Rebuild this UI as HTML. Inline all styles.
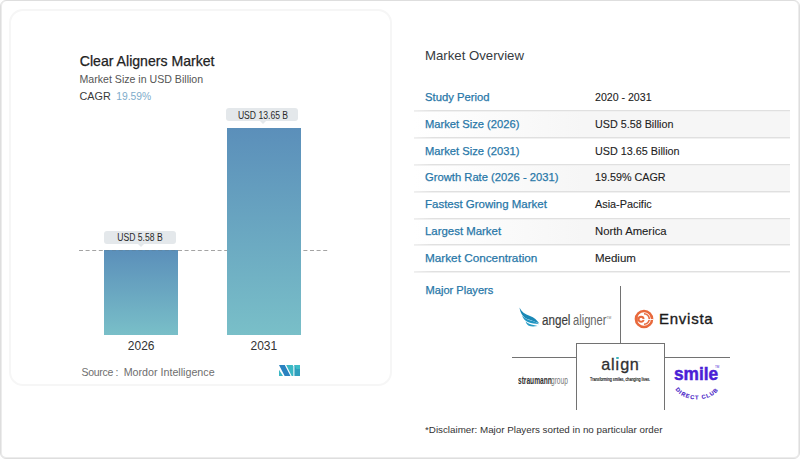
<!DOCTYPE html>
<html><head><meta charset="utf-8">
<style>
html,body{margin:0;padding:0;background:#fff;}
body{width:800px;height:459px;overflow:hidden;position:relative;font-family:"Liberation Sans",sans-serif;}
.a{position:absolute;white-space:nowrap;line-height:1;}
#outer{position:absolute;left:0;top:0;width:800px;height:459px;box-sizing:border-box;border:1px solid #dedede;border-radius:6px;box-shadow:inset 1px 0 0 #ececec,inset -1px 0 0 #ececec,inset 0 -1px 0 #ececec;}
#card{position:absolute;left:9px;top:9px;width:383px;height:377px;box-sizing:border-box;border:2px solid #f6f6f6;border-radius:14px;}
.bar{position:absolute;background:linear-gradient(#5b8fba,#79bfc8);}
.lbl{position:absolute;background:#e4e8eb;border-radius:3px;}
.lbl i{position:absolute;bottom:-3px;width:0;height:0;border-left:3px solid transparent;border-right:3px solid transparent;border-top:3px solid #e4e8eb;}
.lt{position:absolute;width:80px;text-align:center;font-size:10px;line-height:1;color:#2a2a2a;white-space:nowrap;transform:scaleX(0.86);}
.sep{position:absolute;left:414px;width:376px;height:1px;background:linear-gradient(to right,#efefef,#e0e0e0 5%,#e0e0e0);box-shadow:0 1px 0 #f1f1f1;}
.shade{position:absolute;left:414px;width:376px;background:linear-gradient(to right,rgba(246,246,246,0),#f6f6f6 45%,#f6f6f6);}
.rl{position:absolute;left:425px;font-size:11.3px;color:#2877a8;-webkit-text-stroke:0.25px #2877a8;line-height:1;white-space:nowrap;}
.rv{position:absolute;left:595px;font-size:10.8px;color:#222;-webkit-text-stroke:0.1px #222;line-height:1;white-space:nowrap;}
.ln{position:absolute;background:#727272;}
</style></head><body>
<div id="outer"></div>
<div id="card"></div>

<div class="a" style="left:79.8px;top:53.7px;font-size:14.1px;color:#222;-webkit-text-stroke:0.25px #222;">Clear Aligners Market</div>
<div class="a" style="left:79.5px;top:74px;font-size:10.6px;color:#555;">Market Size in USD Billion</div>
<div class="a" style="left:79.5px;top:90.6px;font-size:10.8px;color:#3a3a3a;">CAGR</div>
<div class="a" style="left:116.2px;top:91.6px;font-size:10.3px;color:#7eaccb;">19.59%</div>

<svg style="position:absolute;left:0;top:0;" width="400" height="300"><line x1="79" y1="250.5" x2="328" y2="250.5" stroke="#a4a4a4" stroke-width="1" stroke-dasharray="4 2.6"/></svg>
<div class="bar" style="left:104px;top:250px;width:74px;height:85px;"></div>
<div class="bar" style="left:227px;top:128px;width:74px;height:207px;"></div>
<svg style="position:absolute;left:0;top:0;" width="400" height="300"><line x1="104" y1="250.5" x2="178" y2="250.5" stroke="#5f7f96" stroke-opacity="0.55" stroke-width="1" stroke-dasharray="4 2.6" stroke-dashoffset="5.2"/></svg>
<div class="lbl" style="left:104px;top:230.7px;width:72.2px;height:13.1px;"><i style="left:33.5px;"></i></div>
<div class="lbl" style="left:226px;top:107.8px;width:72.2px;height:13.1px;"><i style="left:33.5px;"></i></div>
<div class="lt" style="left:100.3px;top:233.3px;">USD 5.58 B</div>
<div class="lt" style="left:223.25px;top:110.8px;">USD 13.65 B</div>
<div class="a" style="left:127.8px;top:340.0px;font-size:12px;color:#333;">2026</div>
<div class="a" style="left:250.5px;top:340.0px;font-size:12px;color:#333;">2031</div>
<div class="a" style="left:81.5px;top:366.7px;font-size:10.5px;color:#6e6e6e;letter-spacing:-0.3px;">Source :</div>
<div class="a" style="left:123.7px;top:366.5px;font-size:10.7px;color:#6e6e6e;">Mordor Intelligence</div>
<svg style="position:absolute;left:278.75px;top:364.75px;" width="21.5" height="11.25" viewBox="0 0 21.5 11.25">
  <polygon points="0,4.8 0,11.25 4.2,11.25" fill="#3cb7c4"/>
  <polygon points="0,0 5.8,0 11.6,11.25 5.8,11.25" fill="#2a82c0"/>
  <polygon points="7.2,0 13.6,0 14.4,1.6 14.4,11.25 12.8,11.25" fill="#3ab8c4"/>
  <polygon points="15.4,0 21.5,0 21.5,11.25 15.4,11.25" fill="#2f9fbd"/>
  <polygon points="15.4,0 21.5,0 21.5,4 17.4,4" fill="#3cbcc6"/>
</svg>

<div class="a" style="left:425px;top:49px;font-size:13.2px;color:#363b41;">Market Overview</div>

<div class="shade" style="top:111px;height:26px;"></div>
<div class="shade" style="top:164px;height:27px;"></div>
<div class="shade" style="top:218px;height:27px;"></div>
<div class="sep" style="top:110px;"></div>
<div class="sep" style="top:137px;"></div>
<div class="sep" style="top:164px;"></div>
<div class="sep" style="top:191px;"></div>
<div class="sep" style="top:218px;"></div>
<div class="sep" style="top:244px;"></div>
<div class="sep" style="top:271px;"></div>
<div class="rl" style="top:92.02px;font-size:11.26px;">Study Period</div>
<div class="rl" style="top:119.09px;font-size:11.18px;">Market Size (2026)</div>
<div class="rl" style="top:145.89px;font-size:11.18px;">Market Size (2031)</div>
<div class="rl" style="top:171.64px;font-size:11.23px;">Growth Rate (2026 - 2031)</div>
<div class="rl" style="top:199.22px;font-size:11.49px;">Fastest Growing Market</div>
<div class="rl" style="top:226.08px;font-size:11.42px;">Largest Market</div>
<div class="rl" style="top:251.60px;font-size:11.75px;">Market Concentration</div>
<div class="rv" style="top:91.58px;font-size:10.6px;">2020 - 2031</div>
<div class="rv" style="top:119.42px;font-size:10.78px;">USD 5.58 Billion</div>
<div class="rv" style="top:146.21px;font-size:10.8px;">USD 13.65 Billion</div>
<div class="rv" style="top:172.02px;font-size:10.78px;">19.59% CAGR</div>
<div class="rv" style="top:198.76px;font-size:10.86px;">Asia-Pacific</div>
<div class="rv" style="top:226.18px;font-size:11.3px;">North America</div>
<div class="rv" style="top:252.82px;font-size:11.5px;">Medium</div>

<div class="a" style="left:425.5px;top:284.9px;font-size:11.1px;color:#2877a8;-webkit-text-stroke:0.25px #2877a8;">Major Players</div>

<div class="ln" style="left:620px;top:286px;width:1px;height:57px;"></div>
<div style="position:absolute;left:576px;top:342.5px;width:87px;height:66px;border:1px solid #727272;border-bottom:none;"></div>
<div class="ln" style="left:512px;top:356.5px;width:64px;height:1px;"></div>
<div class="ln" style="left:665px;top:356.5px;width:65px;height:1px;"></div>

<!-- angel aligner -->
<svg style="position:absolute;left:518.5px;top:306.5px;" width="22" height="21" viewBox="0 0 22 21">
  <path d="M0.5,0.5 C2.2,4.6 6,7.4 11,9.0 C15,10.4 18.2,13.2 20.3,16.6 C16,15 13,13.6 9.8,12.6 C5.6,11.2 1.4,8 0.5,0.5 Z" fill="#1a88b6"/>
  <path d="M3,8.2 C5,11.4 9,12.8 13,13.8 C16,14.6 18.5,15.8 19.9,17.2 C16,16.8 12.5,16.3 9.5,15.3 C6.5,14.1 4,11.8 3,8.2 Z" fill="#2196c3"/>
  <path d="M6.6,14.6 C8.5,16.6 11.5,17.6 14.5,18.1 C16,18.4 17.3,18.7 18.6,19.1 C15,19.8 12,19.8 9.8,18.8 C8.3,18 7.2,16.6 6.6,14.6 Z" fill="#2a9dc6"/>
</svg>
<div class="a" style="left:541.5px;top:311.5px;font-size:15.5px;color:#3d3d3d;transform:scaleX(0.75);transform-origin:0 0;-webkit-text-stroke:0.2px #3d3d3d;">angel</div>
<div class="a" style="left:573px;top:311.5px;font-size:15.5px;color:#666;transform:scaleX(0.72);transform-origin:0 0;">aligner</div>
<div class="a" style="left:606.5px;top:317.3px;font-size:3.3px;color:#777;">TM</div>

<!-- envista -->
<svg style="position:absolute;left:634.4px;top:308.8px;" width="20" height="20" viewBox="0 0 20 20">
  <circle cx="10" cy="10" r="8.1" stroke="#e8693c" stroke-width="2.5" fill="none"/>
  <path d="M10,4.7 A5.3,5.3 0 0 1 10,15.3" stroke="#e8693c" stroke-width="1.6" fill="none"/>
  <circle cx="7.1" cy="10.2" r="2.5" stroke="#e8693c" stroke-width="1.9" fill="none"/>
  <path d="M3.2,7 L5,10.2 L3.2,13.4 Z" fill="#e8693c"/>
  <path d="M7.1,10.5 H19.5" stroke="#fff" stroke-width="0.9"/>
</svg>
<div class="a" style="left:659px;top:310.9px;font-size:15px;letter-spacing:0.75px;color:#1a1a1a;-webkit-text-stroke:0.35px #1a1a1a;">Envista</div>

<!-- align -->
<div class="a" style="left:601.3px;top:356px;font-size:16.2px;letter-spacing:0.6px;color:#303030;-webkit-text-stroke:0.3px #303030;">al<span id="di" style="position:relative;">&#305;<b style="position:absolute;left:50%;top:1.6px;margin-left:-1.25px;width:2.5px;height:2.5px;border-radius:50%;background:#3fb5bd;"></b></span>gn</div>
<div class="a" style="left:637px;top:360.5px;font-size:2.5px;color:#888;">TM</div>
<div class="a" style="left:589.5px;top:376.7px;font-size:5px;color:#2a2a2a;transform:scaleX(0.745);transform-origin:0 0;-webkit-text-stroke:0.2px #2a2a2a;">Transforming smiles, changing lives.</div>

<!-- straumann -->
<div class="a" style="left:517.5px;top:374.9px;font-size:11.4px;color:#2e2e2e;font-weight:bold;transform:scaleX(0.58);transform-origin:0 0;">straumann</div>
<div class="a" style="left:551px;top:374.9px;font-size:11.4px;color:#777;transform:scaleX(0.58);transform-origin:0 0;">group</div>

<!-- smile -->
<div class="a" style="left:674.3px;top:364.9px;font-size:18.5px;color:#4b1fd6;font-weight:bold;-webkit-text-stroke:0.5px #4b1fd6;transform:scaleX(0.935);transform-origin:0 0;">smile</div>
<div class="a" style="left:715px;top:365.5px;font-size:3px;color:#4b1fd6;">TM</div>
<svg style="position:absolute;left:668px;top:376px;" width="58" height="28" viewBox="0 0 58 28">
  <defs><path id="arc" d="M6.5,11.5 A23,15 0 0 0 51.5,11.5"/></defs>
  <text font-family="Liberation Sans" font-weight="bold" font-size="5.6" fill="#4a1fc8" stroke="#4a1fc8" stroke-width="0.15" letter-spacing="1.05"><textPath href="#arc" startOffset="50%" text-anchor="middle">DIRECT CLUB</textPath></text>
</svg>

<div class="a" style="left:425px;top:425px;font-size:9.8px;color:#333;">*Disclaimer: Major Players sorted in no particular order</div>
</body></html>
